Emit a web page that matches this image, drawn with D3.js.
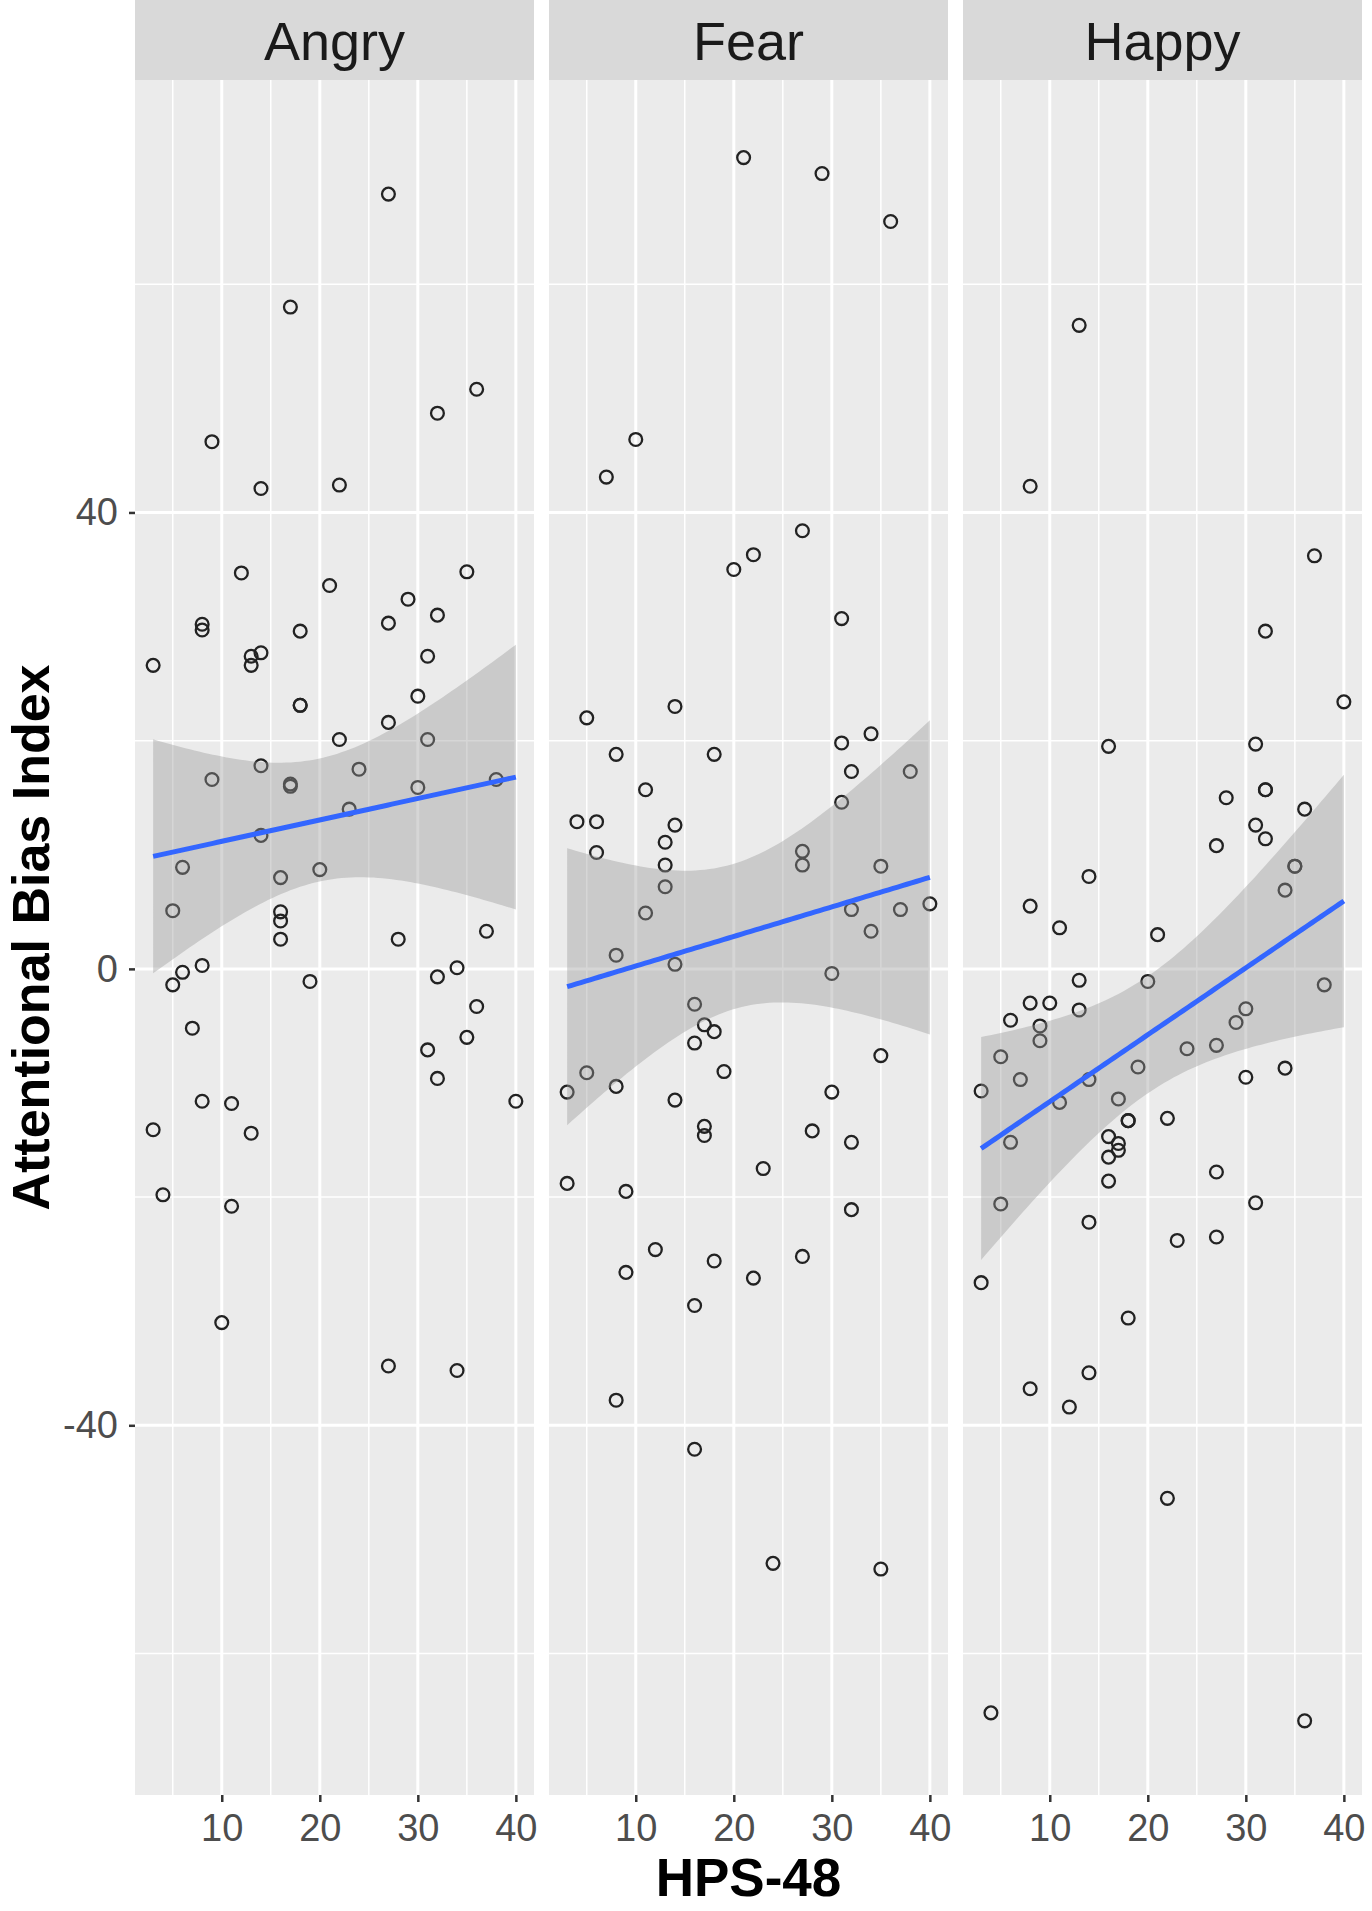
<!DOCTYPE html>
<html><head><meta charset="utf-8">
<script src="https://cdn.jsdelivr.net/npm/d3@7"></script>
<style>body{margin:0;background:#fff}</style>
</head><body><svg id="c" width="1372" height="1911"></svg>
<script>
const categories = ["Angry", "Fear", "Happy"];
const angryX = [27,17,36,32,9,14,22,12,21,35,29,8,8,18,27,32,3,13,13,14,31,
  18,18,30,27,22,31,24,14,9,17,17,30,38,23,14,6,20,16,5,16,16,16,28,37,8,6,5,19,34,32,36,7,31,35,32,8,11,40,3,13,4,11,10,27,34];
const angryY = [67.9,58.0,50.8,48.7,46.2,42.1,42.4,34.7,33.6,34.8,32.4,30.2,29.7,29.6,30.3,31.0,26.6,27.4,26.6,27.7,27.4,
  23.1,23.1,23.9,21.6,20.1,20.1,17.5,17.8,16.6,16.2,16.0,15.9,16.6,14.0,11.7,8.9,8.7,8.0,5.1,5.0,4.2,2.6,2.6,3.3,0.3,-0.3,-1.4,-1.1,0.1,-0.7,-3.3,-5.2,-7.1,-6.0,-9.6,-11.6,-11.8,-11.6,-14.1,-14.4,-19.8,-20.8,-31.0,-34.8,-35.2];
const fearX = [21,29,36,10,7,27,22,20,31,
  14,5,8,18,31,34,32,38,11,31,4,6,14,13,6,13,27,27,35,13,11,32,37,40,34,8,14,30,16,17,18,16,35,19,5,3,8,30,14,17,17,28,32,23,3,9,32,12,9,18,22,27,16,8,16,24,35];
const fearY = [71.1,69.7,65.5,46.4,43.1,38.4,36.3,35.0,30.7,
  23.0,22.0,18.8,18.8,19.8,20.6,17.3,17.3,15.7,14.6,12.9,12.9,12.6,11.1,10.2,9.1,10.3,9.1,9.0,7.2,4.9,5.2,5.2,5.7,3.3,1.2,0.4,-0.4,-3.1,-4.9,-5.5,-6.5,-7.6,-9.0,-9.1,-10.8,-10.3,-10.8,-11.5,-13.8,-14.6,-14.2,-15.2,-17.5,-18.8,-19.5,-21.1,-24.6,-26.6,-25.6,-27.1,-25.2,-29.5,-37.8,-42.1,-52.1,-52.6];
const happyX = [13,8,37,32,40,16,31,32,32,28,36,31,32,27,35,35,34,14,8,11,21,13,20,38,8,10,6,13,9,9,30,29,5,27,24,7,14,19,30,34,3,17,11,18,18,22,6,16,17,17,16,16,27,5,31,14,23,27,3,18,14,8,12,22,4,36];
const happyY = [56.4,42.3,36.2,29.6,23.4,19.5,19.7,15.7,15.7,15.0,14.0,12.6,11.4,10.8,9.0,9.0,6.9,8.1,5.5,3.6,3.0,-1.0,-1.1,-1.4,-3.0,-3.0,-4.5,-3.6,-5.0,-6.3,-3.5,-4.7,-7.7,-6.7,-7.0,-9.7,-9.7,-8.6,-9.5,-8.7,-10.7,-11.4,-11.7,-13.3,-13.3,-13.1,-15.2,-14.7,-15.3,-15.9,-16.5,-18.6,-17.8,-20.6,-20.5,-22.2,-23.8,-23.5,-27.5,-30.6,-35.4,-36.8,-38.4,-46.4,-65.2,-65.9];
const xTicks = [10, 20, 30, 40];
const xMinorTicks = [5, 15, 25, 35];
const yTicks = [-40, 0, 40];
const yMinorTicks = [-60, -20, 20, 60];
const xDomain = [1.15, 41.85];
const yDomain = [-72.4, 77.9];
const xTitle = "HPS-48";
const yTitle = "Attentional Bias Index";

const series = [
  {name: categories[0], x: angryX, y: angryY},
  {name: categories[1], x: fearX, y: fearY},
  {name: categories[2], x: happyX, y: happyY}
];

const font = "'Liberation Sans', Arial, Helvetica, sans-serif";
const svg = d3.select("#c");
const panelTop = 80, panelBottom = 1795;
const panelW = 399, gap = 15, left0 = 135;
const y = d3.scaleLinear().domain(yDomain).range([panelBottom, panelTop]);

function fitLm(xs, ys) {
  const n = xs.length, mx = d3.mean(xs), my = d3.mean(ys);
  let sxx = 0, sxy = 0;
  for (let i = 0; i < n; i++) { sxx += (xs[i]-mx)**2; sxy += (xs[i]-mx)*(ys[i]-my); }
  const b = sxy / sxx, a = my - b * mx;
  let sse = 0;
  for (let i = 0; i < n; i++) sse += (ys[i] - (a + b*xs[i]))**2;
  const s = Math.sqrt(sse / (n - 2));
  const df = n - 2, z = 1.959964;
  const t = z + (z**3 + z)/(4*df) + (5*z**5 + 16*z**3 + 3*z)/(96*df*df);
  const [xmin, xmax] = d3.extent(xs);
  return d3.range(80).map(k => {
    const xv = xmin + (xmax - xmin) * k / 79;
    const f = a + b * xv;
    const se = s * Math.sqrt(1/n + (xv - mx)**2 / sxx);
    return {x: xv, y: f, lo: f - t*se, hi: f + t*se};
  });
}

series.forEach((s, i) => {
  const x0 = left0 + i * (panelW + gap);
  const x = d3.scaleLinear().domain(xDomain).range([x0, x0 + panelW]);
  const g = svg.append("g");
  g.append("rect").attr("x", x0).attr("y", panelTop).attr("width", panelW)
    .attr("height", panelBottom - panelTop).attr("fill", "#EBEBEB");
  // minor grid
  g.selectAll(".vminor").data(xMinorTicks).enter().append("line")
    .attr("x1", d => x(d)).attr("x2", d => x(d)).attr("y1", panelTop).attr("y2", panelBottom)
    .attr("stroke", "#fff").attr("stroke-width", 1.5);
  g.selectAll(".hminor").data(yMinorTicks).enter().append("line")
    .attr("y1", d => y(d)).attr("y2", d => y(d)).attr("x1", x0).attr("x2", x0 + panelW)
    .attr("stroke", "#fff").attr("stroke-width", 1.5);
  // major grid
  g.selectAll(".vmajor").data(xTicks).enter().append("line")
    .attr("x1", d => x(d)).attr("x2", d => x(d)).attr("y1", panelTop).attr("y2", panelBottom)
    .attr("stroke", "#fff").attr("stroke-width", 3);
  g.selectAll(".hmajor").data(yTicks).enter().append("line")
    .attr("y1", d => y(d)).attr("y2", d => y(d)).attr("x1", x0).attr("x2", x0 + panelW)
    .attr("stroke", "#fff").attr("stroke-width", 3);

  // strip
  g.append("rect").attr("x", x0).attr("y", 0).attr("width", panelW).attr("height", panelTop)
    .attr("fill", "#D9D9D9");
  g.append("text").attr("x", x0 + panelW/2).attr("y", 60).attr("text-anchor", "middle")
    .attr("font-family", font).attr("font-size", 54).attr("fill", "#1A1A1A").text(s.name);

  // points
  g.selectAll(".pt").data(s.x.map((xv, k) => [xv, s.y[k]])).enter().append("circle")
    .attr("cx", d => x(d[0])).attr("cy", d => y(d[1])).attr("r", 6.4)
    .attr("fill", "none").attr("stroke", "#222").attr("stroke-width", 2.3);

  // smooth
  const fit = fitLm(s.x, s.y);
  g.append("path").datum(fit)
    .attr("d", d3.area().x(d => x(d.x)).y0(d => y(d.lo)).y1(d => y(d.hi)))
    .attr("fill", "#999999").attr("fill-opacity", 0.4);
  g.append("path").datum(fit)
    .attr("d", d3.line().x(d => x(d.x)).y(d => y(d.y)))
    .attr("fill", "none").attr("stroke", "#3366FF").attr("stroke-width", 5);

  // x axis
  const ax = g.append("g").attr("transform", `translate(0,${panelBottom})`)
    .call(d3.axisBottom(x).tickValues(xTicks).tickSize(7).tickPadding(12).tickFormat(d => String(d)));
  ax.select(".domain").remove();
  ax.selectAll(".tick line").attr("stroke", "#333333").attr("stroke-width", 2.5);
  ax.selectAll(".tick text").attr("font-family", font).attr("font-size", 38).attr("fill", "#4D4D4D");
});

// y axis
const ay = svg.append("g").attr("transform", `translate(${left0},0)`)
  .call(d3.axisLeft(y).tickValues(yTicks).tickSize(6).tickPadding(11).tickFormat(d => String(d)));
ay.select(".domain").remove();
ay.selectAll(".tick line").attr("stroke", "#333333").attr("stroke-width", 2.5);
ay.selectAll(".tick text").attr("font-family", font).attr("font-size", 38).attr("fill", "#4D4D4D");

// titles
svg.append("text").attr("transform", `translate(49,${(panelTop + panelBottom)/2}) rotate(-90)`)
  .attr("text-anchor", "middle").attr("font-family", font).attr("font-weight", "bold")
  .attr("font-size", 52).attr("fill", "#000").text(yTitle);
svg.append("text").attr("x", left0 + (3*panelW + 2*gap)/2).attr("y", 1896)
  .attr("text-anchor", "middle").attr("font-family", font).attr("font-weight", "bold")
  .attr("font-size", 53).attr("fill", "#000").text(xTitle);
</script>
</body></html>
